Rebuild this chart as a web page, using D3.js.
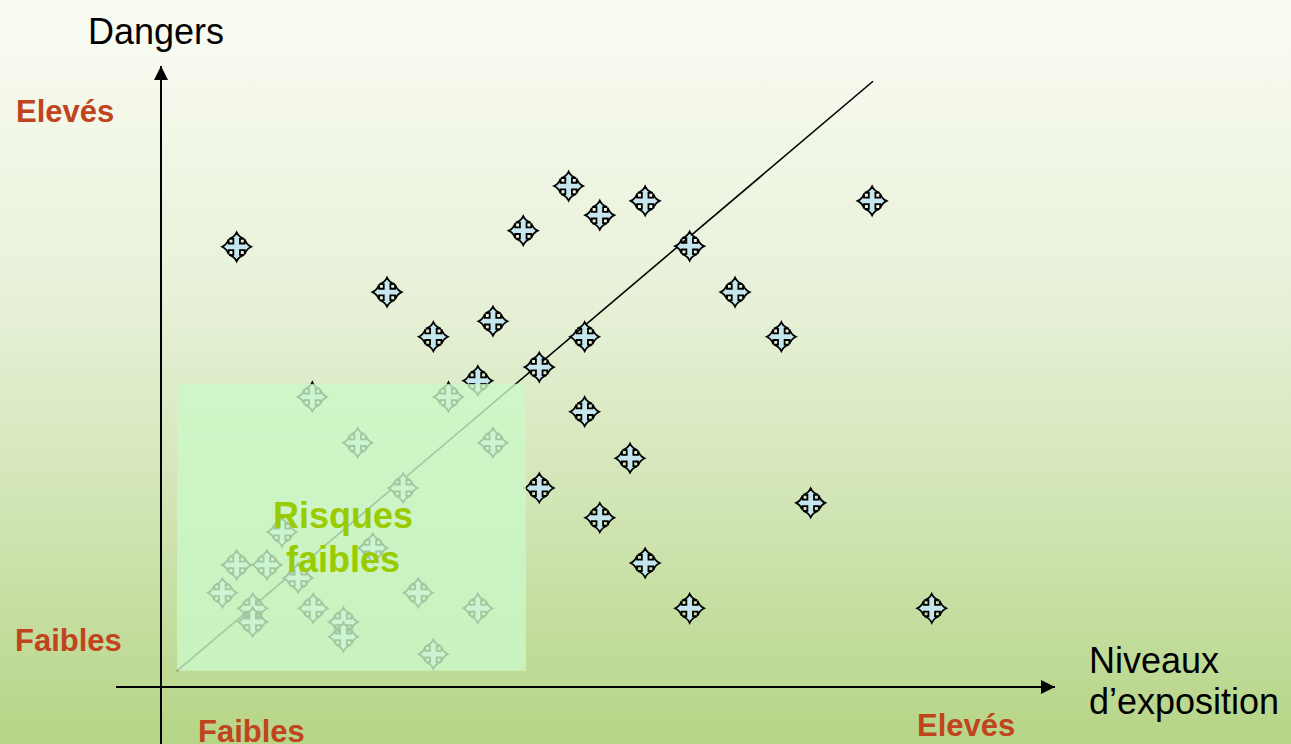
<!DOCTYPE html>
<html><head><meta charset="utf-8">
<script src="https://cdn.jsdelivr.net/npm/d3@7"></script>
<style>html,body{margin:0;padding:0;overflow:hidden;background:#fff}</style>
</head><body>
<svg id="chart" width="1291" height="744"></svg>
<script>
// Data (arbitrary units 0..100 on each axis)
const pointsX = [8.5,25.4,30.6,37.3,40.7,45.8,49.3,54.4,59.4,64.5,69.7,47.6,42.5,35.6,47.6,52.7,42.5,49.3,54.4,59.4,73.0,79.9,86.6];
const pointsY = [71.0,63.7,56.5,59.0,73.6,80.8,76.1,78.4,71.1,63.7,56.5,56.5,51.6,49.4,44.4,36.9,32.1,27.3,20.0,12.7,29.7,78.4,12.7];
const hiddenX = [17.0,32.3,22.1,37.3,27.2,13.6,23.8,8.5,11.9,15.4,6.9,10.3,10.3,17.1,20.5,20.5,28.9,35.6,30.6];
const hiddenY = [46.8,46.8,39.4,39.4,32.1,25.0,22.4,19.7,19.7,17.6,15.2,12.7,10.5,12.7,10.5,8.1,15.2,12.7,5.3];
const zoneX = [1.8, 41.0];
const zoneY = [2.6, 48.9];
const trendX = [1.8, 80.0];
const trendY = [2.6, 97.7];
const axisTitles = {y: "Dangers", x: ["Niveaux", "d\u2019exposition"]};
const levelLabels = ["Faibles", "Elevés"];
const zoneLabel = ["Risques", "faibles"];

const svg = d3.select("#chart");
const W = 1291, H = 744;

// background gradient
const defs = svg.append("defs");
const grad = defs.append("linearGradient").attr("id","bg").attr("x1",0).attr("y1",0).attr("x2",0).attr("y2",1);
[[0,"#fafcf4"],[0.4,"#e7f1d8"],[0.7,"#d0e4b2"],[1,"#b6d586"]].forEach(([o,c])=>grad.append("stop").attr("offset",o).attr("stop-color",c));
svg.append("rect").attr("width",W).attr("height",H).attr("fill","url(#bg)");

const x = d3.scaleLinear().domain([0,100]).range([161,1051]);
const y = d3.scaleLinear().domain([0,100]).range([687,67]);

// trend line
svg.append("line")
  .attr("x1",x(trendX[0])).attr("y1",y(trendY[0]))
  .attr("x2",x(trendX[1])).attr("y2",y(trendY[1]))
  .attr("stroke","#000").attr("stroke-width",1.6);

// marker shape: four-way arrow with concave heads
function arrowIcon(){
  const T = 14.5, B = 8, HW = 7.5, S = 3.3;
  const p = d3.path();
  // build one quadrant pattern rotated 4 times
  const pts = [];
  const rot = (px,py,k)=>{ // rotate by k*90deg
    let a=px,b=py; for(let i=0;i<k;i++){ const t=a; a=-b; b=t; } return [a,b]; };
  for(let k=0;k<4;k++){
    const tip = rot(0,-T,k), c1 = rot(-HW,-B,k), c1c = rot(-2.2,-B-1.8,k);
    const c2 = rot(HW,-B,k), c2c = rot(2.2,-B-1.8,k);
    const s1 = rot(-S,-B,k), s2 = rot(S,-B,k), s3 = rot(S,-S,k);
    pts.push({s1,c1,c1c,tip,c2c,c2,s2,s3});
  }
  pts.forEach((q,i)=>{
    if(i===0) p.moveTo(q.s1[0],q.s1[1]); else p.lineTo(q.s1[0],q.s1[1]);
    p.lineTo(q.c1[0],q.c1[1]);
    p.quadraticCurveTo(q.c1c[0],q.c1c[1],q.tip[0],q.tip[1]);
    p.quadraticCurveTo(q.c2c[0],q.c2c[1],q.c2[0],q.c2[1]);
    p.lineTo(q.s2[0],q.s2[1]);
    p.lineTo(q.s3[0],q.s3[1]);
  });
  p.closePath();
  return p.toString();
}
const markerPath = arrowIcon();

function drawMarkers(xs, ys, cls){
  svg.append("g").attr("class",cls).selectAll("path")
    .data(xs.map((v,i)=>[v,ys[i]]))
    .join("path")
    .attr("d",markerPath)
    .attr("transform",d=>`translate(${x(d[0])},${y(d[1])})`)
    .attr("fill","#c6e6ee")
    .attr("stroke","#000")
    .attr("stroke-width",1.8)
    .attr("stroke-linejoin","miter");
}
drawMarkers(hiddenX, hiddenY, "hidden");
drawMarkers(pointsX, pointsY, "points");

// low-risk zone (semi-opaque overlay)
svg.append("rect")
  .attr("x",x(zoneX[0])).attr("y",y(zoneY[1]))
  .attr("width",x(zoneX[1])-x(zoneX[0])).attr("height",y(zoneY[0])-y(zoneY[1]))
  .attr("fill","#ccf7c8").attr("fill-opacity",0.8);

const font = "Liberation Sans, Arial, sans-serif";
svg.append("g").selectAll("text").data(zoneLabel).join("text")
  .attr("x",343)
  .attr("y",(d,i)=>528+i*44)
  .attr("text-anchor","middle")
  .attr("font-family",font)
  .attr("font-weight","bold").attr("font-size",36)
  .attr("fill","#99cc00").text(d=>d);

// axes with arrows
defs.append("marker").attr("id","arrow").attr("viewBox","0 0 10 10")
  .attr("refX",10).attr("refY",5).attr("markerWidth",14).attr("markerHeight",14)
  .attr("markerUnits","userSpaceOnUse").attr("orient","auto")
  .append("path").attr("d","M0,0 L10,5 L0,10 Z").attr("fill","#000");

svg.append("line").attr("x1",x(0)).attr("y1",H).attr("x2",x(0)).attr("y2",y(100)-1)
  .attr("stroke","#000").attr("stroke-width",2).attr("marker-end","url(#arrow)");
svg.append("line").attr("x1",116).attr("y1",y(0)).attr("x2",x(100)+4).attr("y2",y(0))
  .attr("stroke","#000").attr("stroke-width",2).attr("marker-end","url(#arrow)");

svg.append("text").attr("x",156).attr("y",44).attr("text-anchor","middle")
  .attr("font-family",font).attr("font-size",36).attr("fill","#000").text(axisTitles.y);
svg.append("g").selectAll("text").data(axisTitles.x).join("text")
  .attr("x",1089).attr("y",(d,i)=>673+i*41)
  .attr("font-family",font).attr("font-size",36).attr("fill","#000").text(d=>d);

const red = "#c0441e";
function lab(t,xp,yp){
  svg.append("text").attr("x",xp).attr("y",yp).attr("font-family",font)
    .attr("font-weight","bold").attr("font-size",31).attr("fill",red).text(t);
}
lab(levelLabels[1],16,122);
lab(levelLabels[0],15,651);
lab(levelLabels[0],198,742);
lab(levelLabels[1],917,736);
</script>
</body></html>
